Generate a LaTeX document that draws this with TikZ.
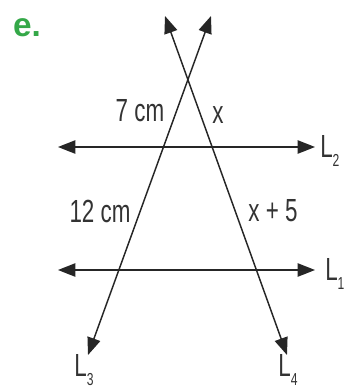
\documentclass[tikz,border=0pt]{standalone}
\usepackage{fontspec}
\setmainfont{Liberation Sans}[FakeStretch=0.7]
\newfontfamily\headfont{Liberation Sans}
\usetikzlibrary{arrows.meta}
\definecolor{headgreen}{RGB}{52,168,72}

\newcommand{\lname}[1]{L\raisebox{-0.55ex}{\fontsize{13}{13}\selectfont #1}}

\begin{document}
\begin{tikzpicture}[x=0.75pt, y=-0.75pt,
    every node/.style={font=\fontsize{24}{24}\selectfont, text=black!80, inner sep=0pt},
    ln/.style={line width=1.1pt, draw=black!85,
               {Triangle[length=13pt, width=10pt]}-{Triangle[length=13pt, width=10pt]}},
    lbl/.style={anchor=west},
    hd/.style={font=\headfont\bfseries\fontsize{25}{25}\selectfont, text=headgreen},
  ]
  \useasboundingbox (0,0) rectangle (344,390);
  % ends of the four lines
  \coordinate (p3a) at (211,16);
  \coordinate (p3b) at (88,355);
  \coordinate (p4a) at (165,16);
  \coordinate (p4b) at (287,355);
  \coordinate (p2a) at (58,147);
  \coordinate (p2b) at (315,147);
  \coordinate (p1a) at (58,270);
  \coordinate (p1b) at (315,270);
  \draw[ln] (p2a) -- (p2b);
  \draw[ln] (p1a) -- (p1b);
  \draw[ln] (p3b) -- (p3a);
  \draw[ln] (p4b) -- (p4a);
  % labels
  \node[hd] (head) at (27,28) {e.};
  \node (seven) at (140,111) {7 cm};
  \node (xa) at (218,115) {x};
  \node (twelve) at (100,211) {12 cm};
  \node (xb) at (273,211) {x + 5};
  \node[lbl] (l2) at (320,151) {\lname{2}};
  \node[lbl] (l1) at (325,274) {\lname{1}};
  \node (l3) at (84,370) {\lname{3}};
  \node (l4) at (288,370) {\lname{4}};
\end{tikzpicture}
\end{document}
